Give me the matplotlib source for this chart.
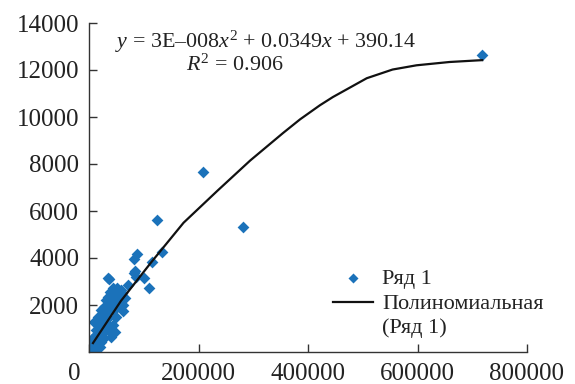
import numpy as np
import matplotlib
matplotlib.use("Agg")
import matplotlib.pyplot as plt
import matplotlib.transforms as mtransforms

plt.rcParams['font.family'] = ['Liberation Serif', 'DejaVu Serif']
plt.rcParams['mathtext.fontset'] = 'custom'
plt.rcParams['mathtext.rm'] = 'Liberation Serif'
plt.rcParams['mathtext.it'] = 'Liberation Serif:italic'

# scatter data (Ряд 1)
pts_x = [718000, 209000, 281800, 123600, 132700, 87300, 81800, 114500, 83600, 85400,
         100000, 109000, 36400, 70900, 61800, 47300, 81800, 43600, 34500, 54500,
         61800, 27300, 45500, 16400, 9100, 34500, 43600, 18200, 27300, 9100,
         21800, 3600, 2000, 12700, 7300, 20000, 40000, 14000, 12700, 21800,
         30900, 40000, 49100, 30900, 21800, 12700, 16400, 29100, 36400, 47300,
         54500, 60000, 40000, 50900, 58200, 34000, 25500, 5500, 10500, 27300,
         34500, 50000, 56000, 65000, 38000]
pts_y = [12650, 7660, 5320, 5620, 4255, 4170, 3960, 3830, 3450, 3200,
         3150, 2740, 3100, 2850, 1750, 850, 3360, 2720, 2340, 2510,
         2000, 1910, 1790, 1490, 1280, 1450, 1150, 1020, 850, 640,
         425, 300, 170, 85, 50, 210, 640, 380, 720, 1150,
         1570, 2000, 2210, 2210, 1790, 930, 510, 1280, 1700, 2130,
         2300, 2510, 2420, 2720, 2640, 3150, 1410, 550, 300, 600,
         1000, 1500, 1900, 2300, 2550]

# polynomial trend line as drawn in the picture
trend_x = [7300, 58200, 112700, 172700, 234500, 294500, 354500, 385500,
           421800, 445500, 507300, 554500, 598200, 658200, 718200]
trend_y = [380, 2170, 3790, 5500, 6860, 8150, 9320, 9900,
           10500, 10850, 11650, 12020, 12200, 12340, 12420]

x_ticks = [0, 200000, 400000, 600000, 800000]
y_ticks = [2000, 4000, 6000, 8000, 10000, 12000, 14000]

W, H = 575, 384
fig = plt.figure(figsize=(W / 100, H / 100), dpi=100)
ax = fig.add_axes([89 / W, 1 - 352 / H, (527 - 89) / W, (352 - 23) / H])

ax.scatter(pts_x, pts_y, marker='D', s=36, color='#1b72ba', linewidths=0,
           label='Ряд 1', zorder=2)
ax.plot(trend_x, trend_y, color='#111111', lw=1.6,
        label='Полиномиальная', zorder=3)

ax.set_xlim(0, 800000)
ax.set_ylim(0, 14000)
ax.set_xticks(x_ticks)
ax.set_yticks(y_ticks)
ax.set_xticklabels([str(v) for v in x_ticks])
ax.set_yticklabels([str(v) for v in y_ticks])
for s in ['top', 'right']:
    ax.spines[s].set_visible(False)
for s in ['left', 'bottom']:
    ax.spines[s].set_color('#333333')
    ax.spines[s].set_linewidth(1.0)
ax.tick_params(direction='in', length=6, width=1.0, color='#333333',
               labelsize=18, labelcolor='#222222')
ax.tick_params(axis='y', pad=7)
ax.tick_params(axis='x', pad=8)

# the "0" label sits left of its tick
lab0 = ax.get_xticklabels()[0]
lab0.set_transform(lab0.get_transform() +
                   mtransforms.ScaledTranslation(-15 / 100, 0, fig.dpi_scale_trans))

fig.text(266 / W, 1 - 42 / H, r"$y$ = 3E–008$x^2$ + 0.0349$x$ + 390.14",
         ha='center', va='center', fontsize=15.8, color='#222222')
fig.text(235 / W, 1 - 65 / H, r"$R^2$ = 0.906",
         ha='center', va='center', fontsize=15.8, color='#222222')

leg = ax.legend(loc='upper left', bbox_to_anchor=(333 / W, 1 - 268 / H),
                bbox_transform=fig.transFigure, frameon=False, fontsize=16,
                borderpad=0, borderaxespad=0, handlelength=1.8,
                handletextpad=0.4, labelspacing=0.24, markerscale=0.85)
for t in leg.get_texts():
    t.set_color('#222222')
fig.text(382 / W, 1 - 328 / H, '(Ряд 1)', ha='left', va='center',
         fontsize=16, color='#222222')

fig.savefig('out.png', dpi=100)
